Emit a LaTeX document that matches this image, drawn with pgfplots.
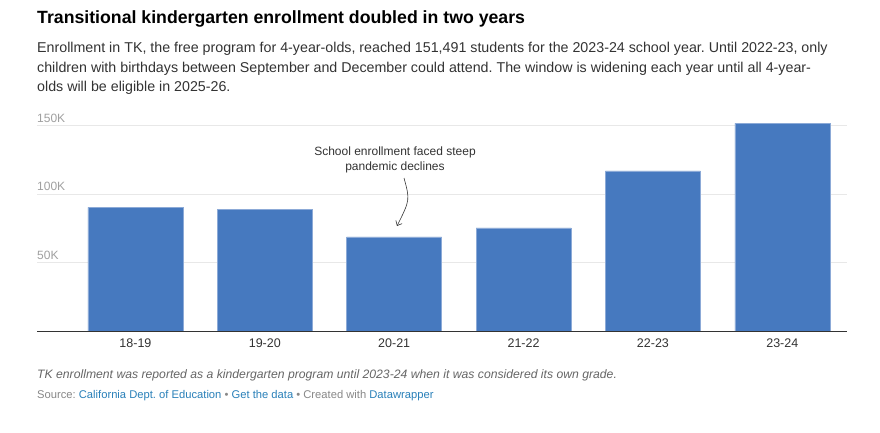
\documentclass[border=0pt]{standalone}
\usepackage{pgfplots}
\pgfplotsset{compat=1.18}
\usetikzlibrary{arrows.meta}
\usepackage{fontspec}
\setmainfont{Liberation Sans}
\frenchspacing
\definecolor{barblue}{RGB}{70,121,191}
\definecolor{baredge}{RGB}{140,170,215}
\definecolor{gridgray}{RGB}{232,232,232}
\definecolor{ticktext}{RGB}{160,160,160}
\definecolor{notegray}{RGB}{102,102,102}
\definecolor{srcgray}{RGB}{136,136,136}
\definecolor{linkblue}{RGB}{41,128,185}
\definecolor{basegray}{RGB}{51,51,51}

\begin{document}
\begin{tikzpicture}[x=1pt,y=1pt]
  \fill[white] (0,0) rectangle (880,432);
  % title and subtitle
  \node[anchor=base west, inner sep=0, font=\fontsize{17.7}{22}\selectfont\bfseries] at (37,432-24) {Transitional kindergarten enrollment doubled in two years};
  \begin{scope}[every node/.style={anchor=base west, inner sep=0, text=basegray, font=\fontsize{14.25}{20}\selectfont}]
    \node at (37,432-53) {Enrollment in TK, the free program for 4-year-olds, reached 151,491 students for the 2023-24 school year. Until 2022-23, only};
    \node at (37,432-73) {children with birthdays between September and December could attend. The window is widening each year until all 4-year-};
    \node at (37,432-92) {olds will be eligible in 2025-26.};
  \end{scope}

  \begin{axis}[
      at={(37pt,101pt)}, anchor=south west,
      scale only axis, width=810pt, height=212.4pt,
      xmin=-0.761, xmax=5.5, ymin=0, ymax=155,
      axis line style={draw=none}, tick style={draw=none},
      ytick={50,100,150}, yticklabels={50K,100K,150K},
      ymajorgrids, grid style={gridgray, line width=0.8pt},
      yticklabel style={anchor=south west, inner sep=0, yshift=3pt, text=ticktext, font=\fontsize{12}{14}\selectfont},
      xtick=data, xticklabels={18-19,19-20,20-21,21-22,22-23,23-24},
      xticklabel style={anchor=north, yshift=-4pt, text=basegray, font=\fontsize{12.5}{14}\selectfont},
      clip=false,
    ]
    \addplot[ybar, bar width=95pt, fill=barblue, draw=baredge, line width=0.6pt] coordinates {
      (0,90.3) (1,88.8) (2,68.6) (3,75.2) (4,116.8) (5,151.5)
    };
    \draw[basegray, line width=0.9pt] (rel axis cs:0,0) -- (rel axis cs:1,0);
  \end{axis}

  % annotation
  \node[align=center, inner sep=0, text=basegray, font=\fontsize{12}{15}\selectfont] at (395,432-160) {School enrollment faced steep\\pandemic declines};
  \draw[basegray, line width=0.6pt, -{Straight Barb[length=4pt, width=7pt]}] (404,432-178) .. controls (410,432-200) .. (397,432-226);

  % footer
  \node[anchor=base west, inner sep=0, text=notegray, font=\fontsize{12.2}{14}\selectfont\itshape] at (37,432-378) {TK enrollment was reported as a kindergarten program until 2023-24 when it was considered its own grade.};
  \node[anchor=base west, inner sep=0, text=srcgray, font=\fontsize{11.2}{13}\selectfont] at (37,432-398) {Source: \textcolor{linkblue}{California Dept. of Education} • \textcolor{linkblue}{Get the data} • Created with \textcolor{linkblue}{Datawrapper}};
\end{tikzpicture}
\end{document}
